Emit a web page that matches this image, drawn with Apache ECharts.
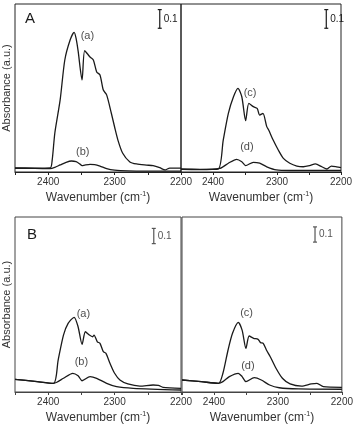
<!DOCTYPE html>
<html>
<head>
<meta charset="utf-8">
<script src="https://cdn.jsdelivr.net/npm/echarts@6/dist/echarts.min.js"></script>
<style>
  body { margin: 0; background: #fff; }
  #chart { width: 356px; height: 428px; }
</style>
</head>
<body>
<div id="chart"></div>
<script>
// panel A, left: (a) and (b)
const wnAa = [2450, 2420, 2397, 2394, 2390, 2382, 2375, 2367, 2361, 2358, 2355, 2349, 2345, 2337, 2332, 2327, 2322, 2317, 2312, 2305, 2300, 2295, 2288, 2277, 2267, 2252, 2242, 2232, 2224, 2217, 2210, 2200]
const absAa = [0.022, 0.021, 0.022, 0.064, 0.209, 0.386, 0.600, 0.707, 0.748, 0.716, 0.650, 0.493, 0.650, 0.616, 0.600, 0.536, 0.520, 0.439, 0.413, 0.316, 0.241, 0.171, 0.102, 0.054, 0.043, 0.037, 0.034, 0.023, 0.011, 0.021, 0.021, 0.021]
const wnAb = [2450, 2420, 2397, 2390, 2382, 2373, 2365, 2358, 2352, 2349, 2345, 2337, 2330, 2322, 2312, 2300, 2280, 2250, 2200]
const absAb = [0.020, 0.019, 0.018, 0.025, 0.038, 0.052, 0.059, 0.055, 0.042, 0.034, 0.037, 0.041, 0.040, 0.032, 0.018, 0.010, 0.006, 0.005, 0.005]
// panel A, right: (c) and (d)
const wnAc = [2450, 2420, 2392, 2384, 2376, 2368, 2361, 2355, 2349, 2344, 2337, 2331, 2327, 2322, 2316, 2313, 2306, 2298, 2290, 2280, 2269, 2259, 2249, 2240, 2230, 2222, 2215, 2207, 2200]
const absAc = [0.016, 0.014, 0.016, 0.171, 0.314, 0.403, 0.448, 0.403, 0.275, 0.368, 0.350, 0.341, 0.305, 0.314, 0.243, 0.225, 0.171, 0.118, 0.073, 0.047, 0.032, 0.028, 0.034, 0.043, 0.028, 0.016, 0.032, 0.028, 0.023]
const wnAd = [2450, 2420, 2389, 2376, 2363, 2355, 2349, 2337, 2327, 2316, 2301, 2280, 2250, 2200]
const absAd = [0.014, 0.013, 0.020, 0.047, 0.068, 0.055, 0.034, 0.052, 0.047, 0.028, 0.011, 0.008, 0.008, 0.008]
// panel B, left: (a) and (b)
const wnBa = [2450, 2420, 2392, 2385, 2377, 2370, 2361, 2355, 2349, 2344, 2338, 2333, 2331, 2326, 2322, 2317, 2313, 2307, 2300, 2292, 2280, 2262, 2242, 2234, 2227, 2200]
const absBa = [0.083, 0.070, 0.057, 0.210, 0.374, 0.451, 0.491, 0.429, 0.313, 0.396, 0.374, 0.363, 0.374, 0.330, 0.320, 0.265, 0.254, 0.189, 0.123, 0.079, 0.053, 0.039, 0.046, 0.044, 0.031, 0.024]
const wnBb = [2450, 2420, 2392, 2387, 2377, 2363, 2355, 2349, 2337, 2327, 2312, 2297, 2272, 2200]
const absBb = [0.083, 0.070, 0.057, 0.064, 0.090, 0.123, 0.107, 0.074, 0.101, 0.090, 0.057, 0.035, 0.024, 0.013]
// panel B, right: (c) and (d)
const wnBc = [2450, 2420, 2393, 2386, 2378, 2371, 2362, 2356, 2350, 2345, 2338, 2331, 2327, 2323, 2318, 2312, 2303, 2293, 2281, 2263, 2248, 2239, 2229, 2200]
const absBc = [0.079, 0.068, 0.057, 0.123, 0.276, 0.386, 0.458, 0.407, 0.287, 0.368, 0.353, 0.346, 0.324, 0.320, 0.276, 0.232, 0.156, 0.090, 0.053, 0.039, 0.053, 0.057, 0.035, 0.031]
const wnBd = [2450, 2420, 2393, 2386, 2376, 2362, 2356, 2350, 2337, 2326, 2313, 2298, 2268, 2200]
const absBd = [0.079, 0.068, 0.057, 0.068, 0.101, 0.123, 0.101, 0.068, 0.094, 0.079, 0.046, 0.028, 0.020, 0.018]

// curve labels: [wavenumber, absorbance, text], one list per panel
const labelsAL = [[2341, 0.729, '(a)'], [2348, 0.107, '(b)']]
const labelsAR = [[2342, 0.423, '(c)'], [2347, 0.134, '(d)']]
const labelsBL = [[2347, 0.512, '(a)'], [2350, 0.197, '(b)']]
const labelsBR = [[2349, 0.519, '(c)'], [2347, 0.171, '(d)']]
// 0.1 scale bars: [wavenumber, from, to]
const scaleBars = [[2232, 0.77, 0.87], [2223, 0.77, 0.87], [2241, 0.975, 1.075], [2242, 0.985, 1.085]]
const yMaxA = 0.9
const yMaxB = 1.15

const font = "'Liberation Sans', Arial, sans-serif"
const ink = '#1a1a1a'

const zip = (xs, ys) => xs.map((x, i) => [x, ys[i]])

let myChart = echarts.init(document.getElementById('chart'))

const grids = [
  { left: 15, top: 4, width: 166, height: 168 },
  { left: 181, top: 4, width: 160, height: 168 },
  { left: 15, top: 217, width: 166, height: 175 },
  { left: 182, top: 217, width: 167, height: 175 }
].map((g, i) => ({
  ...g,
  show: true,
  borderColor: i < 2 ? '#222' : '#444',
  borderWidth: 1
}))

const xAxes = grids.map((g, i) => ({
  type: 'value',
  gridIndex: i,
  inverse: true,
  min: 2200,
  max: 2450,
  interval: 50,
  axisLine: { lineStyle: { color: g.borderColor, width: 1 } },
  axisTick: { show: true, length: 3, lineStyle: { color: g.borderColor } },
  splitLine: { show: false },
  axisLabel: {
    margin: 5,
    fontFamily: font,
    fontSize: 10,
    color: '#333',
    showMinLabel: true,
    showMaxLabel: true,
    formatter: (v) => (v % 100 === 0 ? String(v) : '')
  },
  name: 'Wavenumber (cm{sup|-1})',
  nameLocation: 'middle',
  nameGap: 19,
  nameTextStyle: {
    fontFamily: font,
    fontSize: 12,
    color: '#333',
    rich: { sup: { fontFamily: font, fontSize: 7, color: '#333', padding: [0, 0, 6, 0] } }
  }
}))

const yAxes = grids.map((g, i) => ({
  type: 'value',
  gridIndex: i,
  min: 0,
  max: i < 2 ? yMaxA : yMaxB,
  axisLine: { show: false },
  axisTick: { show: false },
  axisLabel: { show: false },
  splitLine: { show: false },
  name: i % 2 === 0 ? 'Absorbance (a.u.)' : '',
  nameLocation: 'middle',
  nameGap: 3,
  nameTextStyle: { fontFamily: font, fontSize: 11, color: '#333' }
}))

const curve = (idx, xs, ys) => ({
  type: 'line',
  xAxisIndex: idx,
  yAxisIndex: idx,
  data: zip(xs, ys),
  symbol: 'none',
  smooth: 0.25,
  lineStyle: { color: ink, width: 1.3 },
  z: 3
})

const labelSeries = (idx, list) => ({
  type: 'scatter',
  xAxisIndex: idx,
  yAxisIndex: idx,
  symbolSize: 0,
  data: list.map((d) => ({ value: [d[0], d[1]], name: d[2] })),
  label: {
    show: true,
    position: 'inside',
    formatter: '{b}',
    fontFamily: font,
    fontSize: 11,
    color: ink
  },
  silent: true,
  z: 4
})

const scaleSeries = (idx) => ({
  type: 'custom',
  xAxisIndex: idx,
  yAxisIndex: idx,
  data: [scaleBars[idx]],
  silent: true,
  renderItem: (params, api) => {
    const lo = api.coord([api.value(0), api.value(1)])
    const hi = api.coord([api.value(0), api.value(2)])
    const col = idx < 2 ? ink : '#555'
    const st = { stroke: col, lineWidth: 1.2 }
    return {
      type: 'group',
      children: [
        { type: 'line', shape: { x1: lo[0], y1: lo[1], x2: hi[0], y2: hi[1] }, style: st },
        { type: 'line', shape: { x1: lo[0] - 2, y1: lo[1], x2: lo[0] + 2, y2: lo[1] }, style: st },
        { type: 'line', shape: { x1: hi[0] - 2, y1: hi[1], x2: hi[0] + 2, y2: hi[1] }, style: st },
        {
          type: 'text',
          style: {
            text: '0.1',
            x: lo[0] + 4,
            y: (lo[1] + hi[1]) / 2,
            verticalAlign: 'middle',
            font: '10px ' + font,
            fill: col
          }
        }
      ]
    }
  }
})

let option = {
  animation: false,
  backgroundColor: '#fff',
  grid: grids,
  xAxis: xAxes,
  yAxis: yAxes,
  graphic: [
    { type: 'text', left: 25, top: 11, style: { text: 'A', font: '15px ' + font, fill: ink } },
    { type: 'text', left: 27, top: 227, style: { text: 'B', font: '15px ' + font, fill: ink } }
  ],
  series: [
    curve(0, wnAa, absAa),
    curve(0, wnAb, absAb),
    curve(1, wnAc, absAc),
    curve(1, wnAd, absAd),
    curve(2, wnBa, absBa),
    curve(2, wnBb, absBb),
    curve(3, wnBc, absBc),
    curve(3, wnBd, absBd),
    labelSeries(0, labelsAL),
    labelSeries(1, labelsAR),
    labelSeries(2, labelsBL),
    labelSeries(3, labelsBR),
    scaleSeries(0),
    scaleSeries(1),
    scaleSeries(2),
    scaleSeries(3)
  ]
}
option && myChart.setOption(option)
</script>
</body>
</html>
